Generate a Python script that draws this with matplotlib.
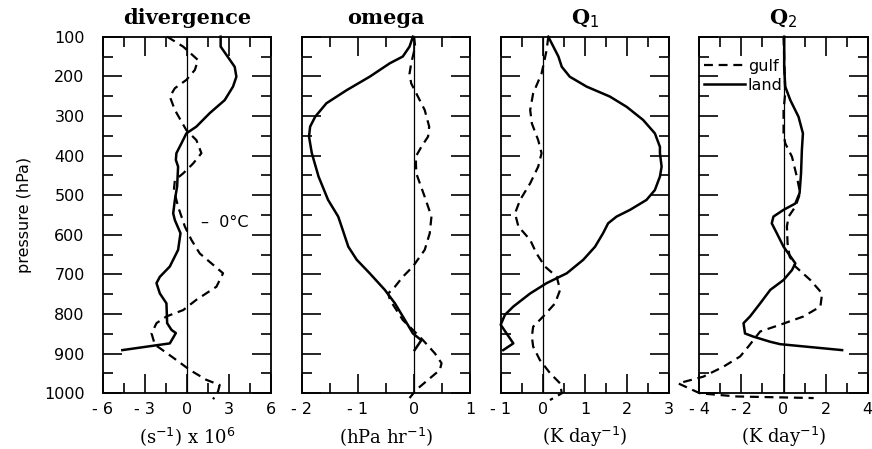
import matplotlib
matplotlib.use("Agg")
import matplotlib.pyplot as plt
from matplotlib.ticker import MultipleLocator, FixedLocator, FixedFormatter

# ---------------- data ----------------
div_land_p = [100, 125, 176, 201, 226, 260, 293, 327, 344, 369, 394, 411, 428, 478, 512, 546, 563, 596, 638, 680, 706, 722, 748, 773, 823, 840, 848, 874, 891]
div_land_v = [2.40, 2.40, 3.40, 3.52, 3.28, 2.69, 1.62, 0.67, -0.04, -0.39, -0.75, -0.79, -0.63, -0.70, -0.86, -0.98, -0.86, -0.46, -0.63, -1.22, -1.93, -2.17, -1.93, -1.46, -1.41, -1.10, -0.79, -1.22, -4.6]
div_gulf_p = [100, 125, 159, 184, 209, 230, 251, 285, 336, 361, 394, 420, 445, 462, 487, 529, 579, 613, 647, 697, 731, 764, 790, 806, 823, 849, 878, 886, 916, 941, 966, 979, 996, 1015]
div_gulf_v = [-1.41, -0.27, 0.79, 0.56, -0.04, -0.86, -1.22, -0.86, -0.04, 0.67, 1.03, 0.44, -0.27, -0.86, -0.93, -0.63, -0.15, 0.32, 0.91, 2.57, 2.10, 0.67, -0.27, -1.46, -2.17, -2.52, -2.28, -1.93, -0.75, 0.20, 1.38, 2.33, 2.21, 1.86]

om_land_p = [100, 125, 150, 167, 201, 235, 268, 302, 327, 352, 394, 453, 512, 554, 579, 630, 663, 697, 739, 773, 806, 849, 866, 891]
om_land_v = [-0.02, -0.08, -0.20, -0.43, -0.79, -1.20, -1.56, -1.76, -1.85, -1.87, -1.82, -1.70, -1.53, -1.35, -1.29, -1.17, -1.02, -0.79, -0.52, -0.34, -0.20, -0.02, 0.13, 0.01]
om_gulf_p = [100, 125, 167, 193, 218, 243, 285, 327, 352, 378, 403, 445, 504, 554, 596, 638, 680, 706, 731, 748, 764, 815, 840, 866, 899, 924, 941, 966, 991, 1012]
om_gulf_v = [0.00, 0.02, -0.05, -0.08, -0.05, 0.04, 0.19, 0.27, 0.25, 0.13, 0.03, 0.04, 0.19, 0.31, 0.28, 0.19, -0.02, -0.20, -0.34, -0.46, -0.43, -0.20, -0.02, 0.16, 0.37, 0.49, 0.46, 0.25, 0.04, -0.08]

q1_land_p = [100, 125, 150, 176, 201, 226, 251, 277, 310, 344, 378, 394, 428, 453, 487, 512, 537, 554, 571, 596, 630, 663, 697, 722, 748, 781, 802, 827, 849, 874, 891]
q1_land_v = [0.13, 0.25, 0.37, 0.45, 0.64, 1.04, 1.59, 1.99, 2.38, 2.66, 2.78, 2.78, 2.82, 2.78, 2.66, 2.46, 2.07, 1.75, 1.55, 1.43, 1.24, 0.96, 0.57, 0.09, -0.30, -0.70, -0.90, -1.00, -0.86, -0.70, -0.94]
q1_gulf_p = [100, 134, 193, 243, 285, 319, 361, 394, 428, 470, 512, 546, 579, 613, 647, 680, 706, 739, 773, 806, 832, 857, 882, 916, 949, 975, 1000, 1017]
q1_gulf_v = [0.13, 0.09, -0.03, -0.23, -0.30, -0.26, -0.11, -0.03, -0.11, -0.30, -0.54, -0.66, -0.58, -0.30, -0.15, 0.05, 0.33, 0.41, 0.29, 0.01, -0.23, -0.26, -0.23, -0.07, 0.17, 0.41, 0.45, 0.17]

q2_land_p = [100, 176, 226, 260, 302, 344, 386, 445, 495, 521, 537, 554, 571, 596, 630, 672, 689, 714, 739, 773, 806, 823, 849, 857, 870, 876, 891]
q2_land_v = [0.03, 0.03, 0.08, 0.32, 0.71, 0.92, 0.87, 0.83, 0.76, 0.56, 0.00, -0.48, -0.56, -0.32, 0.00, 0.56, 0.40, 0.00, -0.63, -1.11, -1.59, -1.90, -1.83, -1.43, -0.63, -0.16, 2.78]
q2_gulf_p = [100, 243, 285, 344, 369, 403, 453, 495, 529, 554, 579, 621, 655, 680, 714, 748, 781, 806, 827, 844, 882, 907, 933, 958, 975, 1000, 1008, 1012]
q2_gulf_v = [0.00, 0.08, 0.00, 0.00, 0.08, 0.40, 0.63, 0.79, 0.56, 0.24, 0.16, 0.19, 0.29, 0.56, 1.27, 1.83, 1.75, 0.95, -0.16, -1.11, -1.67, -2.06, -2.86, -3.81, -5.0, -3.97, -2.22, 1.43]

titles = ["divergence", "omega", r"Q$_1$", r"Q$_2$"]
xlabels = [r"(s$^{-1}$) x 10$^6$", r"(hPa hr$^{-1}$)", r"(K day$^{-1}$)", r"(K day$^{-1}$)"]
xlims = [(-6, 6), (-2, 1), (-1, 3), (-4, 4)]
xmajor = [[-6, -3, 0, 3, 6], [-2, -1, 0, 1], [-1, 0, 1, 2, 3], [-4, -2, 0, 2, 4]]
xmajor_labels = [["- 6", "- 3", "0", "3", "6"], ["- 2", "- 1", "0", "1"],
                 ["- 1", "0", "1", "2", "3"], ["- 4", "- 2", "0", "2", "4"]]
xminor = [1.5, 0.5, 0.5, 1.0]
p_ticks = [100, 200, 300, 400, 500, 600, 700, 800, 900, 1000]
legend_labels = ["gulf", "land"]

series = [
    (div_gulf_v, div_gulf_p, div_land_v, div_land_p),
    (om_gulf_v, om_gulf_p, om_land_v, om_land_p),
    (q1_gulf_v, q1_gulf_p, q1_land_v, q1_land_p),
    (q2_gulf_v, q2_gulf_p, q2_land_v, q2_land_p),
]

# ---------------- figure ----------------
fig = plt.figure(figsize=(8.72, 4.49), dpi=100)
lefts = [102.7, 301.7, 500.7, 699.3]
W, H = 872.0, 449.0
axw = 168.5 / W
bottom = 1 - 393.3 / H
axh = (393.3 - 36.7) / H

serif = "DejaVu Serif"
sans = "DejaVu Sans"

for i in range(4):
    ax = fig.add_axes([lefts[i] / W, bottom, axw, axh])
    gv, gp, lv, lp = series[i]
    ax.axvline(0, color="black", lw=0.9, zorder=1)
    ax.plot(gv, gp, color="black", lw=1.6, ls=(0, (4, 2.6)), clip_on=False, label=legend_labels[0], zorder=3)
    ax.plot(lv, lp, color="black", lw=1.8, ls="-", clip_on=False, label=legend_labels[1], zorder=3)
    ax.set_xlim(*xlims[i])
    ax.set_ylim(1000, 100)
    ax.xaxis.set_major_locator(FixedLocator(xmajor[i]))
    ax.xaxis.set_major_formatter(FixedFormatter(xmajor_labels[i]))
    ax.xaxis.set_minor_locator(MultipleLocator(xminor[i]))
    ax.yaxis.set_major_locator(FixedLocator(p_ticks))
    ax.yaxis.set_minor_locator(MultipleLocator(50))
    ax.tick_params(which="major", direction="in", length=14, width=1.2, top=True, right=True,
                   labelsize=11.5)
    ax.tick_params(axis="x", which="major", pad=6)
    ax.tick_params(axis="y", which="major", pad=13)
    ax.tick_params(which="minor", direction="in", length=7, width=1.2, top=True, right=True)
    for lab in ax.get_xticklabels():
        lab.set_family(sans)
    for s in ax.spines.values():
        s.set_linewidth(1.3)
    if i == 0:
        ax.set_ylabel("pressure (hPa)", fontsize=11.5, family=sans, labelpad=9)
    else:
        ax.set_yticklabels([])
    ax.set_title(titles[i], family=serif, fontweight="bold", fontsize=15, pad=9)
    ax.set_xlabel(xlabels[i], family=serif, fontsize=13, labelpad=6)
    if i == 0:
        ax.text(1.0, 570, "–  0°C", fontsize=11.5, family=sans, va="center", ha="left")
    if i == 3:
        ax.legend(loc="upper left", frameon=False, fontsize=11.5, handlelength=2.6,
                  handletextpad=0.15, borderaxespad=0.1, labelspacing=0.25,
                  bbox_to_anchor=(-0.02, 0.96))

fig.savefig("out.png", dpi=100)
